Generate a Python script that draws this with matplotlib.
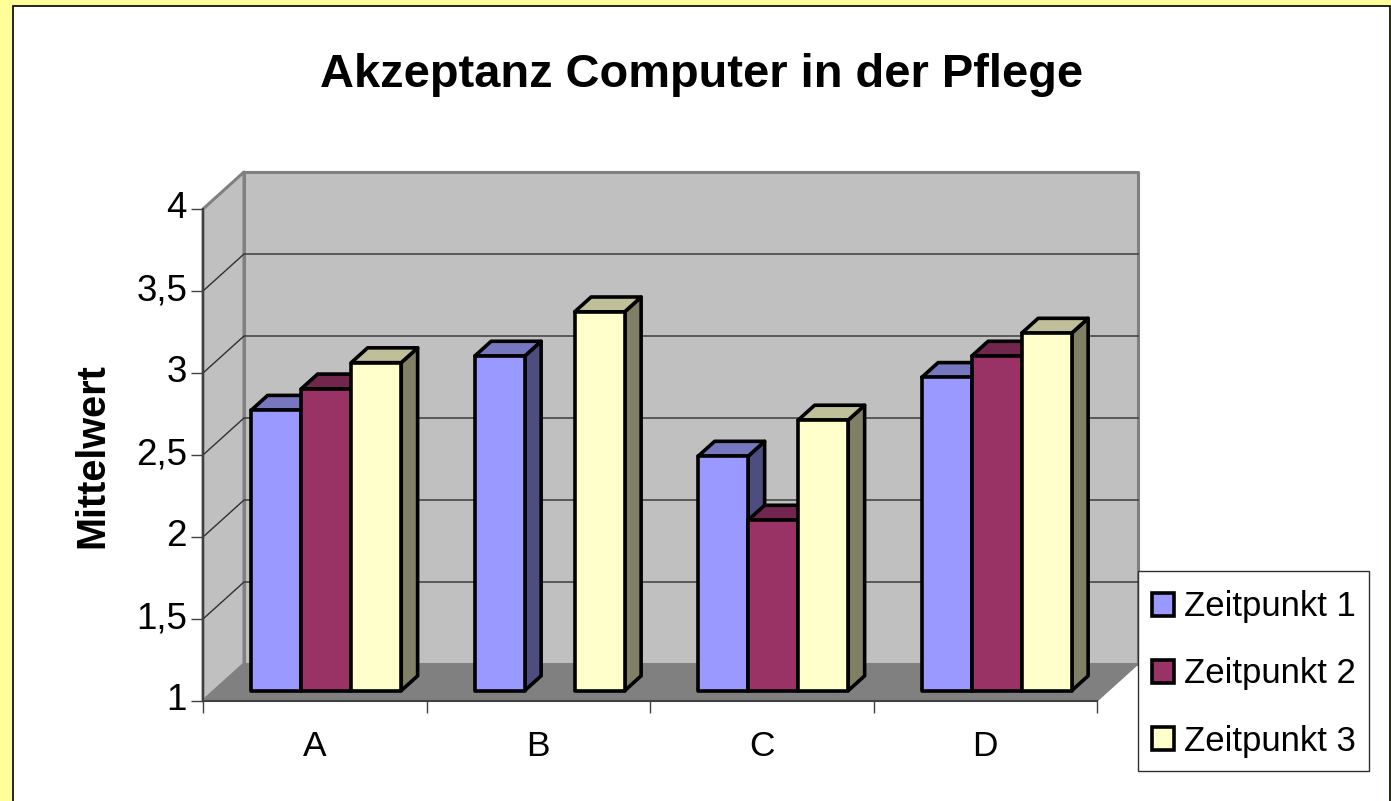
import numpy as np
import matplotlib
matplotlib.use('Agg')
import matplotlib.pyplot as plt
from matplotlib.patches import Polygon, Rectangle, Patch
from matplotlib.transforms import IdentityTransform, ScaledTranslation

plt.rcParams['font.family'] = ['Liberation Sans', 'DejaVu Sans']

titel = 'Akzeptanz Computer in der Pflege'
kategorien = ['A', 'B', 'C', 'D']
zeitpunkt_1 = [2.71, 3.04, 2.43, 2.91]
zeitpunkt_2 = [2.84, np.nan, 2.04, 3.04]
zeitpunkt_3 = [3.00, 3.31, 2.65, 3.18]
serien_namen = ['Zeitpunkt 1', 'Zeitpunkt 2', 'Zeitpunkt 3']
y_ticks = [1, 1.5, 2, 2.5, 3, 3.5, 4]
y_labels = ['1', '1,5', '2', '2,5', '3', '3,5', '4']

# front, top, side
farben = [('#9999FF', '#7777BF', '#4D4D80'),
          ('#993366', '#73264D', '#4D1A33'),
          ('#FFFFCC', '#BFBF99', '#808066')]

W, H = 1391, 801
fig = plt.figure(figsize=(W/100, H/100), dpi=100, facecolor='#FFFF99')
fig.add_artist(Rectangle((13/W, -0.01), (1390-13)/W, (H-6)/H + 0.01, transform=fig.transFigure,
                         facecolor='white', edgecolor='black', linewidth=1.2, zorder=-1))

ax = fig.add_axes([203/W, (H-701)/H, (1097-203)/W, (701-209)/H])
ax.patch.set_visible(False)
ax.set_xlim(0, 4)
ax.set_ylim(1, 4)
for s in ['top', 'right']:
    ax.spines[s].set_visible(False)
for s in ['left', 'bottom']:
    ax.spines[s].set_color('#404040')
    ax.spines[s].set_linewidth(1.5)

tiefe = np.array([41, 37])


def pj(x, y, d=0):
    # Datenpunkt + Tiefe -> Pixel
    return ax.transData.transform((x, y)) + d*tiefe


def flaeche(punkte, farbe, rand, lw, z):
    ax.add_patch(Polygon(punkte, closed=True, facecolor=farbe, edgecolor=rand, linewidth=lw,
                         joinstyle='round', transform=IdentityTransform(), zorder=z, clip_on=False))


# Waende und Boden
flaeche([pj(0, 1, 1), pj(4, 1, 1), pj(4, 4, 1), pj(0, 4, 1)], '#C0C0C0', '#808080', 2.2, 1)
flaeche([pj(0, 1), pj(0, 1, 1), pj(0, 4, 1), pj(0, 4)], '#C0C0C0', '#808080', 2.2, 1)
for v in y_ticks[1:-1]:
    a, b, c = pj(0, v), pj(0, v, 1), pj(4, v, 1)
    ax.plot([a[0], b[0], c[0]], [a[1], b[1], c[1]], color='#303030', lw=1,
            transform=IdentityTransform(), zorder=1.5, clip_on=False)
flaeche([pj(0, 1), pj(4, 1), pj(4, 1, 1), pj(0, 1, 1)], '#808080', '#808080', 1, 1.8)

# Balken
serien = [zeitpunkt_1, zeitpunkt_2, zeitpunkt_3]
breite = 0.2237
d0, d1 = 0.28, 0.68
z = 3
for i in range(len(kategorien)):
    for j, werte in enumerate(serien):
        v = werte[i]
        if np.isnan(v):
            continue
        x0 = i + 0.5 + (j-1.5)*breite
        x1 = x0 + breite
        front, top, side = farben[j]
        flaeche([pj(x1, 1, d0), pj(x1, 1, d1), pj(x1, v, d1), pj(x1, v, d0)], side, 'black', 2.6, z)
        flaeche([pj(x0, v, d0), pj(x1, v, d0), pj(x1, v, d1), pj(x0, v, d1)], top, 'black', 2.6, z)
        flaeche([pj(x0, 1, d0), pj(x1, 1, d0), pj(x1, v, d0), pj(x0, v, d0)], front, 'black', 2.6, z)
        z += 0.01

ax.set_yticks(y_ticks)
ax.set_yticklabels(y_labels)
ax.set_xticks(range(len(kategorien)+1))
ax.set_xticklabels([])
ax.set_xticks(np.arange(len(kategorien)) + 0.5, minor=True)
ax.set_xticklabels(kategorien, minor=True)
ax.tick_params(axis='y', length=8.5, width=1, color='#404040', labelsize=26.5, pad=3)
ax.tick_params(axis='x', which='major', length=8.5, width=1, color='#404040')
ax.tick_params(axis='x', which='minor', length=0, labelsize=25.5, pad=21)
hoch = ScaledTranslation(0, 3/72, fig.dpi_scale_trans)
for lbl in ax.get_yticklabels():
    lbl.set_transform(lbl.get_transform() + hoch)

fig.text(702/W, 1 - 75/H, titel, fontsize=33.8, fontweight='bold', ha='center', va='center')
fig.text(92/W, 1 - 456/H, 'Mittelwert', fontsize=28.5, fontweight='bold', rotation=90,
         ha='center', va='center')

griffe = [Patch(facecolor=farben[k][0], edgecolor='black', linewidth=2.6) for k in range(3)]
fs = 25
fig.add_artist(Rectangle((1138/W, 1 - 771/H), 231/W, 200/H, transform=fig.transFigure,
                         facecolor='white', edgecolor='#303030', linewidth=1, zorder=9))
leg = fig.legend(griffe, serien_namen, loc='center', fontsize=fs,
                 bbox_to_anchor=(1254/W, 1 - 674/H), bbox_transform=fig.transFigure,
                 frameon=False, handlelength=0.63, handleheight=0.63, handletextpad=0.29,
                 labelspacing=0.98, borderpad=0, borderaxespad=0)
leg.set_zorder(10)

fig.savefig('out.png', dpi=100, facecolor=fig.get_facecolor())
